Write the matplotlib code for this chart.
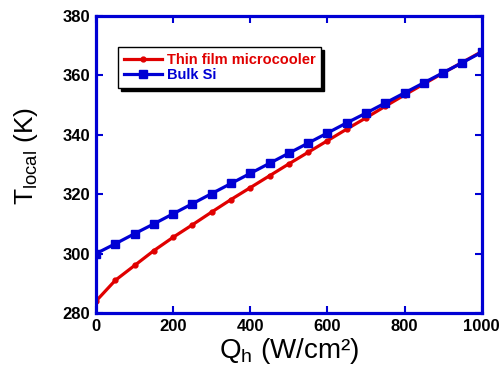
import matplotlib
matplotlib.use("Agg")
import matplotlib.pyplot as plt

q_h = [0, 50, 100, 150, 200, 250, 300, 350, 400, 450, 500,
       550, 600, 650, 700, 750, 800, 850, 900, 950, 1000]
t_microcooler = [284.0, 291.0, 296.0, 301.0, 305.5, 309.7, 314.0, 318.2, 322.2, 326.2, 330.2,
                 334.1, 338.0, 341.9, 345.7, 349.6, 353.4, 357.1, 360.8, 364.4, 368.0]
t_bulk_si = [300.0, 303.3, 306.7, 310.0, 313.4, 316.8, 320.2, 323.6, 327.0, 330.4, 333.8,
             337.2, 340.6, 344.0, 347.3, 350.7, 354.1, 357.5, 360.9, 364.3, 367.8]

plt.rcParams["font.family"] = ["Liberation Sans", "DejaVu Sans"]
plt.rcParams["mathtext.fontset"] = "custom"
plt.rcParams["mathtext.rm"] = "Liberation Sans"

red = "#e00000"
blue = "#0000d4"

fig = plt.figure(figsize=(5.01, 3.70), dpi=100)
ax = fig.add_axes([0.1916, 0.154, 0.770, 0.803])

ax.plot(q_h, t_microcooler, color=red, lw=2.3, marker="o", ms=3.5,
        label="Thin film microcooler")
ax.plot(q_h, t_bulk_si, color=blue, lw=2.3, marker="s", ms=5.5,
        label="Bulk Si")

ax.set_xlim(0, 1000)
ax.set_ylim(280, 380)
ax.set_xticks(range(0, 1001, 200))
ax.set_yticks(range(280, 381, 20))

for s in ax.spines.values():
    s.set_color(blue)
    s.set_linewidth(2.3)
ax.tick_params(direction="in", top=True, right=True, length=5, width=1.5,
               color=blue, labelsize=12, pad=4)
for lab in ax.get_xticklabels() + ax.get_yticklabels():
    lab.set_fontweight("bold")

ax.set_xlabel(r"Q$_\mathregular{h}$ (W/cm²)", fontsize=20, labelpad=2)
ax.set_ylabel(r"T$_\mathregular{local}$ (K)", fontsize=19)
ax.yaxis.set_label_coords(-0.145, 0.53)

leg = ax.legend(loc="upper left", bbox_to_anchor=(0.057, 0.896), borderaxespad=0,
                frameon=True, fancybox=False,
                shadow={"color": "black", "alpha": 1.0}, edgecolor="black",
                prop={"weight": "bold", "size": 10.5}, handlelength=2.6,
                borderpad=0.4, labelspacing=0.1, handletextpad=0.35)
leg.get_frame().set_linewidth(1.0)
leg.get_texts()[0].set_color(red)
leg.get_texts()[1].set_color(blue)

fig.savefig("out.png", dpi=100)
